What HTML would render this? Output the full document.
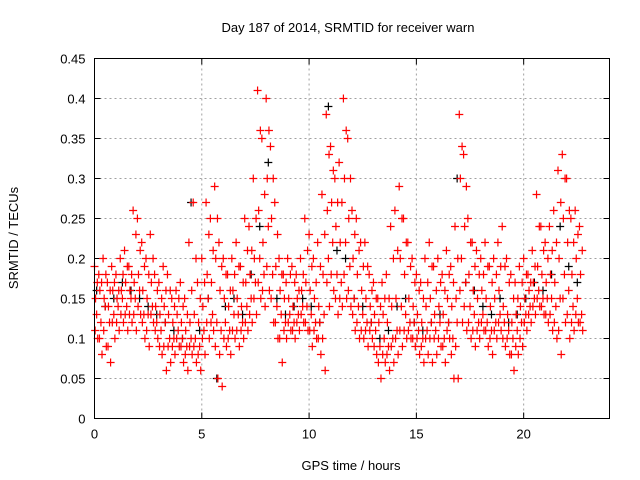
<!DOCTYPE html>
<html><head><meta charset="utf-8"><style>
body{margin:0;background:#fff}
svg{display:block;font-family:"Liberation Sans",sans-serif}
</style></head><body>
<svg id="chart" width="640" height="480" viewBox="0 0 640 480">
<text x="348" y="32" font-size="13" text-anchor="middle">Day 187 of 2014, SRMTID for receiver warn</text>
<text transform="translate(18,238) rotate(-90)" font-size="13" text-anchor="middle">SRMTID / TECUs</text>
<text x="351" y="470" font-size="13" text-anchor="middle">GPS time / hours</text>
<g id="grid"></g>
<g id="ticks"></g>
<g id="marks"></g>
<rect x="94.5" y="58.5" width="515" height="360" fill="none" stroke="#000" stroke-width="1"/>
</svg>
<script>
const xTicks=[0,5,10,15,20];
const yTicks=[0,0.05,0.1,0.15,0.2,0.25,0.3,0.35,0.4,0.45];
const yTickLabels=["0","0.05","0.1","0.15","0.2","0.25","0.3","0.35","0.4","0.45"];
const hours=[0,0.2,0.4,0.6,0.8,1,1.2,1.4,1.6,1.8,2,2.2,2.4,2.6,2.8,3,3.2,3.4,3.6,3.8,4,4.2,4.4,4.6,4.8,5,5.2,5.4,5.6,5.8,6,6.2,6.4,6.6,6.8,7,7.2,7.4,7.6,7.8,8,8.2,8.4,8.6,8.8,9,9.2,9.4,9.6,9.8,10,10.2,10.4,10.6,10.8,11,11.2,11.4,11.6,11.8,12,12.2,12.4,12.6,12.8,13,13.2,13.4,13.6,13.8,14,14.2,14.4,14.6,14.8,15,15.2,15.4,15.6,15.8,16,16.2,16.4,16.6,16.8,17,17.2,17.4,17.6,17.8,18,18.2,18.4,18.6,18.8,19,19.2,19.4,19.6,19.8,20,20.2,20.4,20.6,20.8,21,21.2,21.4,21.6,21.8,22,22.2,22.4,22.6];
const redHigh=[.19,.18,.20,.17,.19,.18,.20,.21,.19,.26,.25,.22,.20,.23,.18,.17,.19,.18,.15,.16,.17,.15,.22,.27,.17,.20,.27,.25,.29,.22,.20,.18,.20,.22,.19,.25,.24,.30,.41,.35,.40,.34,.27,.20,.18,.20,.19,.18,.20,.25,.23,.20,.22,.28,.38,.34,.30,.32,.40,.35,.26,.25,.22,.22,.18,.17,.15,.17,.18,.24,.26,.29,.25,.22,.20,.18,.17,.20,.22,.19,.20,.18,.21,.19,.24,.38,.33,.25,.22,.21,.20,.22,.19,.20,.22,.24,.20,.18,.17,.19,.20,.18,.21,.28,.24,.22,.24,.26,.31,.33,.30,.25,.26,.24];
const redQ1=[.17,.17,.18,.16,.17,.16,.18,.19,.18,.23,.21,.19,.18,.20,.16,.15,.16,.16,.14,.15,.14,.13,.16,.20,.15,.17,.23,.21,.25,.19,.18,.16,.18,.19,.17,.21,.21,.25,.36,.28,.36,.30,.23,.18,.17,.18,.17,.16,.18,.21,.19,.17,.19,.23,.33,.31,.27,.27,.36,.30,.23,.21,.19,.19,.16,.15,.14,.15,.15,.20,.21,.25,.22,.19,.17,.16,.15,.17,.19,.16,.17,.16,.18,.17,.20,.34,.29,.22,.19,.18,.18,.19,.17,.18,.19,.19,.17,.15,.15,.17,.18,.17,.19,.24,.21,.20,.21,.22,.27,.30,.26,.22,.23,.21];
const redMid=[.15,.16,.15,.14,.16,.15,.16,.17,.16,.17,.18,.16,.15,.17,.14,.13,.14,.13,.12,.13,.12,.11,.12,.13,.12,.14,.18,.17,.20,.16,.15,.14,.16,.15,.14,.17,.18,.20,.26,.22,.30,.25,.19,.16,.15,.15,.14,.15,.16,.17,.16,.15,.14,.18,.26,.27,.24,.22,.30,.25,.20,.18,.16,.15,.14,.13,.12,.13,.12,.14,.15,.20,.18,.15,.14,.13,.12,.14,.15,.13,.14,.13,.15,.14,.15,.30,.24,.18,.16,.15,.16,.15,.14,.15,.16,.14,.13,.12,.13,.14,.15,.16,.17,.19,.18,.17,.18,.17,.20,.25,.22,.18,.20,.18];
const redMid2=[.13,.12,.14,.12,.13,.14,.15,.14,.15,.15,.16,.13,.13,.14,.12,.11,.12,.10,.10,.11,.10,.09,.10,.10,.09,.11,.15,.13,.12,.11,.12,.11,.13,.13,.12,.14,.15,.17,.20,.18,.24,.18,.14,.13,.12,.13,.12,.13,.14,.14,.13,.12,.12,.13,.20,.22,.18,.17,.22,.19,.15,.14,.13,.12,.12,.11,.09,.10,.09,.10,.11,.14,.13,.12,.12,.11,.10,.11,.12,.11,.12,.10,.12,.10,.12,.20,.17,.14,.13,.12,.13,.12,.11,.12,.13,.12,.11,.10,.11,.12,.13,.14,.15,.16,.15,.15,.15,.14,.15,.18,.16,.14,.15,.13];
const redQ2=[.11,.10,.11,.09,.12,.12,.13,.13,.13,.13,.14,.12,.11,.13,.11,.09,.09,.09,.09,.10,.09,.08,.09,.09,.08,.10,.12,.12,.09,.08,.10,.10,.11,.11,.11,.12,.13,.15,.17,.16,.19,.15,.12,.10,.11,.12,.11,.12,.13,.12,.11,.11,.10,.10,.17,.18,.15,.15,.18,.16,.13,.12,.11,.11,.11,.09,.07,.08,.08,.09,.10,.11,.11,.11,.10,.10,.09,.10,.10,.10,.10,.09,.11,.08,.09,.16,.14,.12,.11,.11,.12,.11,.10,.11,.12,.10,.10,.08,.09,.10,.12,.13,.14,.15,.14,.13,.13,.12,.11,.15,.13,.12,.13,.12];
const redLow=[.10,.08,.09,.07,.10,.11,.12,.11,.12,.11,.13,.10,.09,.12,.10,.08,.06,.07,.08,.09,.07,.06,.08,.07,.06,.08,.10,.11,.05,.04,.09,.08,.10,.09,.10,.11,.12,.13,.15,.14,.16,.12,.10,.07,.10,.11,.10,.11,.12,.11,.09,.10,.08,.06,.14,.16,.13,.14,.15,.14,.11,.10,.10,.09,.10,.08,.05,.07,.06,.07,.08,.09,.10,.10,.09,.08,.07,.08,.07,.08,.09,.07,.10,.05,.05,.12,.11,.10,.09,.10,.11,.09,.08,.10,.11,.09,.08,.06,.08,.09,.11,.12,.13,.14,.13,.12,.11,.10,.08,.12,.10,.11,.12,.11];
const blackHours=[0.1,0.5,0.9,1.3,1.7,2.1,2.5,2.9,3.3,3.7,4.1,4.5,4.9,5.3,5.7,6.1,6.5,6.9,7.3,7.7,8.1,8.5,8.9,9.3,9.7,10.1,10.5,10.9,11.3,11.7,12.1,12.5,12.9,13.3,13.7,14.1,14.5,14.9,15.3,15.7,16.1,16.5,16.9,17.3,17.7,18.1,18.5,18.9,19.3,19.7,20.1,20.5,20.9,21.3,21.7,22.1,22.5];
const blackVals=[.16,.14,.15,.17,.16,.15,.14,.13,.12,.11,.10,.27,.11,.15,.05,.14,.15,.13,.18,.24,.32,.15,.13,.14,.15,.14,.12,.39,.21,.20,.15,.14,.12,.10,.11,.14,.15,.12,.11,.12,.13,.12,.30,.17,.16,.14,.13,.15,.12,.13,.15,.17,.16,.18,.24,.19,.17];
const X0=94.5,X1=609.5,Y0=418.5,Y1=58.5,XMAX=24,YMAX=0.45;
const sx=h=>X0+h/XMAX*(X1-X0);
const sy=v=>Y0-v/YMAX*(Y0-Y1);
const NS="http://www.w3.org/2000/svg";
const grid=document.getElementById('grid'),ticks=document.getElementById('ticks'),marks=document.getElementById('marks');
function mk(tag,attrs,parent){const e=document.createElementNS(NS,tag);for(const k in attrs)e.setAttribute(k,attrs[k]);parent.appendChild(e);return e;}
xTicks.forEach(t=>{
  const x=sx(t);
  if(t>0){const g=mk('line',{x1:x,x2:x,y1:Y1,y2:Y0,stroke:'#a0a0a0','stroke-dasharray':'2,3'},grid);
  
  }
  mk('line',{x1:x,x2:x,y1:Y0,y2:Y0-6,stroke:'#000'},ticks);
  mk('line',{x1:x,x2:x,y1:Y1,y2:Y1+6,stroke:'#000'},ticks);
  const tx=mk('text',{x:x,y:Y0+20,'font-size':13,'text-anchor':'middle'},ticks);
  tx.textContent=t;
  
  
});
yTicks.forEach((t,i)=>{
  const y=sy(t);
  if(i>0&&i<yTicks.length-1){const g=mk('line',{x1:X0,x2:X1,y1:y,y2:y,stroke:'#a0a0a0','stroke-dasharray':'2,3'},grid);
  
  }
  mk('line',{x1:X0,x2:X0+6,y1:y,y2:y,stroke:'#000'},ticks);
  mk('line',{x1:X1,x2:X1-6,y1:y,y2:y,stroke:'#000'},ticks);
  const tx=mk('text',{x:X0-9,y:y+5,'font-size':13,'text-anchor':'end'},ticks);
  tx.textContent=yTickLabels[i];
  
  
});
function plus(h,v,color,name){
  const x=sx(h),y=sy(v);
  const p=mk('path',{d:`M${x-4},${y}H${x+4}M${x},${y-4}V${y+4}`,stroke:color,'stroke-width':1.2,fill:'none'},marks);
  
  
}
blackHours.forEach((h,i)=>plus(h,blackVals[i],'#000','black-point'));
const redSeries=[[redHigh,0.0],[redQ1,0.13],[redMid,0.05],[redMid2,0.1],[redQ2,0.03],[redLow,0.15]];
redSeries.forEach(([vals,off])=>{hours.forEach((h,i)=>plus(h+off,vals[i],'#ff0000','red-point'));});
</script>
</body></html>
